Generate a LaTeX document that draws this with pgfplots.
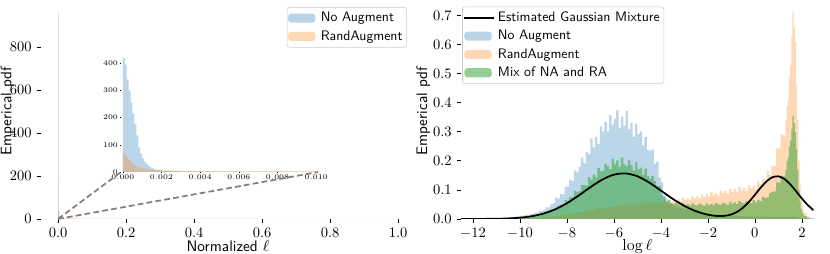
\documentclass[border=0pt]{standalone}
\usepackage{pgfplots}
\pgfplotsset{compat=1.18}
\definecolor{tabblue}{RGB}{31,119,180}
\definecolor{taborange}{RGB}{255,127,14}
\definecolor{tabgreen}{RGB}{44,160,44}
\pgfplotsset{
  patchlegend/.style={legend image code/.code={\fill[##1] (0cm,-0.11cm) rectangle (0.66cm,0.11cm); \path (0cm,0cm) -- (0.72cm,0cm);}},
  linelegend/.style={legend image code/.code={\draw[##1] (0cm,0cm) -- (0.66cm,0cm); \path (0cm,0cm) -- (0.72cm,0cm);}},
  myax/.style={scale only axis, axis lines*=left, axis line style={draw=none},
    tick align=outside, major tick length=3pt, tick style={black, line width=0.5pt},
    ticklabel style={font=\fontsize{10}{12}\selectfont},
    label style={font=\sffamily\fontsize{10.5}{12}\selectfont},
    legend cell align=left,
    legend style={draw=black!20, rounded corners=2pt, fill=white,
      font=\sffamily\fontsize{9.5}{11}\selectfont, inner xsep=0.8pt, inner ysep=1.5pt, row sep=0.5pt},
  },
  bluehist/.style={draw=none, fill=tabblue, fill opacity=0.3, const plot, patchlegend},
  orangehist/.style={draw=none, fill=taborange, fill opacity=0.3, const plot, patchlegend},
  greenhist/.style={draw=none, fill=tabgreen, fill opacity=0.5, const plot, patchlegend},
}
\begin{document}
\begin{tikzpicture}
\useasboundingbox (-28.3pt,-24.1pt) rectangle (544.1pt,151.0pt);
% ---------------- left panel ----------------
\begin{axis}[myax, width=258pt, height=148.3pt,
  xmin=-0.05, xmax=1.05, ymin=0, ymax=1000,
  xtick={0,0.2,0.4,0.6,0.8,1}, ytick={0,200,400,600,800},
  xticklabel style={/pgf/number format/.cd, fixed, fixed zerofill, precision=1},
  xlabel={Normalized $\ell$}, ylabel={Emperical pdf},
  xlabel style={at={(axis description cs:0.5,-0.127)}, anchor=center},
  ylabel style={at={(axis description cs:-0.0895,0.5)}, anchor=center},
  legend style={at={(axis description cs:0.978,0.986)}, anchor=north east},
]
\addplot[bluehist] coordinates {(0,960) (0.002,40) (0.004,6) (0.006,2) (0.01,0.8) (0.02,0.3) (0.05,0)} \closedcycle;
\addlegendentry{No Augment}
\addplot[orangehist] coordinates {(0,175) (0.002,35) (0.004,12) (0.006,7) (0.01,4) (0.02,3) (0.05,2) (0.1,1.5) (0.2,1.2) (0.4,1) (0.6,0.8) (0.8,0.6) (1.0,0)} \closedcycle;
\addlegendentry{RandAugment}
\coordinate (O) at (axis cs:0,0);
\end{axis}
% ---------------- inset ----------------
\begin{axis}[name=inset, at={(55.2pt,32.4pt)}, anchor=south west, scale only axis,
  width=135.9pt, height=86.3pt, xmin=-0.00009, xmax=0.0101, ymin=0, ymax=460,
  axis lines*=left, axis line style={draw=none}, tick align=outside,
  major tick length=1pt, tick style={black, line width=0.3pt},
  xtick={0,0.002,0.004,0.006,0.008,0.010}, ytick={0,100,200,300,400},
  scaled x ticks=false,
  xticklabel style={/pgf/number format/.cd, fixed, fixed zerofill, precision=3},
  ticklabel style={font=\fontsize{3}{3.5}\selectfont, inner sep=1pt},
]
\addplot[bluehist] coordinates {(0,420) (0.0001,395) (0.0002,340) (0.0003,300) (0.0004,255) (0.0005,215) (0.0006,175) (0.0007,135) (0.0008,90) (0.0009,68) (0.001,50) (0.0011,38) (0.0012,29) (0.0013,22) (0.0014,17) (0.0015,13) (0.0016,10) (0.0017,8) (0.0018,6.5) (0.0019,5.5) (0.002,4.5) (0.0022,4) (0.0025,3) (0.003,2) (0.004,1.2) (0.006,0.6) (0.008,0.3) (0.010,0)} \closedcycle;
\addplot[orangehist] coordinates {(0,70) (0.0001,60) (0.0002,50) (0.0003,42) (0.0004,35) (0.0005,29) (0.0006,24) (0.0007,20) (0.0008,17) (0.0009,14.5) (0.001,12.5) (0.0012,10) (0.0014,8.5) (0.0016,7.5) (0.002,6) (0.0025,5) (0.003,4.5) (0.004,4) (0.006,3.5) (0.008,3) (0.010,0)} \closedcycle;
\end{axis}
\draw[gray, line width=1.2pt, dash pattern=on 4pt off 2.2pt] (O) -- (inset.south west);
\draw[gray, line width=1.2pt, dash pattern=on 4pt off 2.2pt] (O) -- (inset.south east);
% ---------------- right panel ----------------
\begin{axis}[myax, at={(289.7pt,0pt)}, anchor=south west, width=243.1pt, height=148.3pt,
  xmin=-12.5, xmax=2.5, ymin=0, ymax=0.74,
  xtick={-12,-10,-8,-6,-4,-2,0,2}, ytick={0,0.1,0.2,0.3,0.4,0.5,0.6,0.7},
  yticklabel style={/pgf/number format/.cd, fixed, fixed zerofill, precision=1},
  xlabel={$\log \ell$}, ylabel={Emperical pdf},
  xlabel style={at={(axis description cs:0.5,-0.127)}, anchor=center},
  ylabel style={at={(axis description cs:-0.1078,0.5)}, anchor=center},
  legend style={at={(axis description cs:0.003,0.988)}, anchor=north west},
]
\addlegendimage{black, line width=1.2pt, linelegend}
\addlegendentry{Estimated Gaussian Mixture}
\addplot[bluehist] coordinates {(-12.5,0) (-12,0.0003) (-11.5,0.0008) (-11,0.0018) (-10.5,0.0050) (-10.4,0.0065) (-10.3,0.0064) (-10.2,0.0083) (-10.1,0.0086) (-10,0.0111) (-9.9,0.0103) (-9.8,0.0134) (-9.7,0.0126) (-9.6,0.0171) (-9.5,0.0175) (-9.4,0.0210) (-9.3,0.0214) (-9.2,0.0281) (-9.1,0.0278) (-9,0.0320) (-8.9,0.0403) (-8.8,0.0396) (-8.7,0.0520) (-8.6,0.0542) (-8.5,0.0722) (-8.4,0.0696) (-8.3,0.0865) (-8.2,0.0846) (-8.1,0.1113) (-8,0.1116) (-7.9,0.1344) (-7.8,0.1311) (-7.7,0.1663) (-7.6,0.1603) (-7.5,0.1800) (-7.4,0.2115) (-7.3,0.1914) (-7.2,0.2309) (-7.1,0.2242) (-7,0.2775) (-6.9,0.2463) (-6.8,0.2822) (-6.7,0.2574) (-6.6,0.3189) (-6.5,0.3007) (-6.4,0.3329) (-6.3,0.3013) (-6.2,0.3575) (-6.1,0.3245) (-6,0.3450) (-5.9,0.3739) (-5.8,0.3137) (-5.7,0.3526) (-5.6,0.3202) (-5.5,0.3719) (-5.4,0.3083) (-5.3,0.3306) (-5.2,0.2826) (-5.1,0.3285) (-5,0.2910) (-4.9,0.3014) (-4.8,0.2548) (-4.7,0.2819) (-4.6,0.2381) (-4.5,0.2350) (-4.4,0.2398) (-4.3,0.1886) (-4.2,0.1976) (-4.1,0.1425) (-4,0.1277) (-3.9,0.0799) (-3.8,0.0700) (-3.7,0.0522) (-3.6,0.0535) (-3.5,0.0437) (-3.4,0.041) (-3.2,0.036) (-3,0.031) (-2.8,0.028) (-2.6,0.024) (-2.4,0.022) (-2.2,0.019) (-2,0.017) (-1.8,0.015) (-1.6,0.014) (-1.4,0.013) (-1.2,0.012) (-1,0.011) (-0.8,0.010) (-0.6,0.010) (-0.4,0.009) (-0.2,0.009) (0,0.008) (0.2,0.008) (0.4,0.007) (0.6,0.007) (0.8,0.006) (1,0.006) (1.2,0.006) (1.4,0.007) (1.6,0.008) (1.8,0.005) (2,0.002) (2.2,0.001) (2.4,0) (2.5,0)} \closedcycle;
\addlegendentry{No Augment}
\addplot[orangehist] coordinates {(-12.5,0) (-12,0.0002) (-11.5,0.0005) (-11,0.001) (-10.5,0.0016) (-10.4,0.0015) (-10.3,0.0020) (-10.2,0.0018) (-10.1,0.0020) (-10,0.0018) (-9.9,0.0026) (-9.8,0.0027) (-9.7,0.0033) (-9.6,0.0033) (-9.5,0.0044) (-9.4,0.0044) (-9.3,0.0055) (-9.2,0.0054) (-9.1,0.0070) (-9,0.0067) (-8.9,0.0080) (-8.8,0.0078) (-8.7,0.0102) (-8.6,0.0099) (-8.5,0.0114) (-8.4,0.0110) (-8.3,0.0142) (-8.2,0.0134) (-8.1,0.0159) (-8,0.0149) (-7.9,0.0189) (-7.8,0.0175) (-7.7,0.0200) (-7.6,0.0189) (-7.5,0.0238) (-7.4,0.0229) (-7.3,0.0262) (-7.2,0.0247) (-7.1,0.0310) (-7,0.0288) (-6.9,0.0333) (-6.8,0.0305) (-6.7,0.0376) (-6.6,0.0338) (-6.5,0.0377) (-6.4,0.0348) (-6.3,0.0426) (-6.2,0.0394) (-6.1,0.0435) (-6,0.0396) (-5.9,0.0480) (-5.8,0.0432) (-5.7,0.0488) (-5.6,0.0437) (-5.5,0.0528) (-5.4,0.0464) (-5.3,0.0506) (-5.2,0.0459) (-5.1,0.0553) (-5,0.0504) (-4.9,0.0547) (-4.8,0.0489) (-4.7,0.0586) (-4.6,0.0522) (-4.5,0.0583) (-4.4,0.0517) (-4.3,0.0618) (-4.2,0.0540) (-4.1,0.0585) (-4,0.0528) (-3.9,0.0635) (-3.8,0.0578) (-3.7,0.0628) (-3.6,0.0563) (-3.5,0.0676) (-3.4,0.0607) (-3.3,0.0683) (-3.2,0.0610) (-3.1,0.0735) (-3,0.0646) (-2.9,0.0708) (-2.8,0.0644) (-2.7,0.0780) (-2.6,0.0714) (-2.5,0.0780) (-2.4,0.0703) (-2.3,0.0848) (-2.2,0.0760) (-2.1,0.0854) (-2,0.0763) (-1.9,0.0920) (-1.8,0.0809) (-1.7,0.0885) (-1.6,0.0804) (-1.5,0.0972) (-1.4,0.0887) (-1.3,0.0965) (-1.2,0.0867) (-1.1,0.1042) (-1,0.0931) (-0.9,0.1043) (-0.8,0.0928) (-0.7,0.1113) (-0.6,0.0975) (-0.5,0.1061) (-0.4,0.0961) (-0.3,0.1158) (-0.2,0.1055) (-0.1,0.1148) (0,0.1030) (0.1,0.1286) (0.2,0.1190) (0.3,0.1378) (0.4,0.1302) (0.5,0.1650) (0.6,0.1520) (0.7,0.1836) (0.8,0.1820) (0.9,0.2430) (1,0.2425) (1.1,0.2912) (1.2,0.2852) (1.3,0.34) (1.35,0.39) (1.4,0.41) (1.45,0.49) (1.5,0.53) (1.55,0.63) (1.6,0.71) (1.65,0.66) (1.7,0.61) (1.75,0.46) (1.8,0.34) (1.85,0.20) (1.9,0.12) (1.95,0.07) (2,0.045) (2.05,0.03) (2.1,0.02) (2.2,0.01) (2.3,0.005) (2.4,0.002) (2.5,0)} \closedcycle;
\addlegendentry{RandAugment}
\addplot[greenhist] coordinates {(-12.5,0) (-12,0.0002) (-11.5,0.0006) (-11,0.0014) (-10.5,0.0031) (-10.4,0.0041) (-10.3,0.0044) (-10.2,0.0046) (-10.1,0.0060) (-10,0.0058) (-9.9,0.0070) (-9.8,0.0073) (-9.7,0.0095) (-9.6,0.0096) (-9.5,0.0105) (-9.4,0.0132) (-9.3,0.0141) (-9.2,0.0146) (-9.1,0.0193) (-9,0.0189) (-8.9,0.0233) (-8.8,0.0240) (-8.7,0.0327) (-8.6,0.0329) (-8.5,0.0361) (-8.4,0.0460) (-8.3,0.0485) (-8.2,0.0497) (-8.1,0.0649) (-8,0.0635) (-7.9,0.0755) (-7.8,0.0741) (-7.7,0.0955) (-7.6,0.0920) (-7.5,0.0960) (-7.4,0.1164) (-7.3,0.1166) (-7.2,0.1144) (-7.1,0.1441) (-7,0.1358) (-6.9,0.1526) (-6.8,0.1427) (-6.7,0.1761) (-6.6,0.1635) (-6.5,0.1648) (-6.4,0.1900) (-6.3,0.1817) (-6.2,0.1709) (-6.1,0.2070) (-6,0.1882) (-5.9,0.2012) (-5.8,0.1795) (-5.7,0.2118) (-5.6,0.1882) (-5.5,0.1819) (-5.4,0.2016) (-5.3,0.1853) (-5.2,0.1676) (-5.1,0.1952) (-5,0.1707) (-4.9,0.1766) (-4.8,0.1521) (-4.7,0.1731) (-4.6,0.1482) (-4.5,0.1378) (-4.4,0.1474) (-4.3,0.1306) (-4.2,0.1135) (-4.1,0.1130) (-4,0.0839) (-3.9,0.0748) (-3.8,0.0593) (-3.7,0.0651) (-3.6,0.0545) (-3.5,0.0508) (-3.4,0.0557) (-3.3,0.0515) (-3.2,0.0467) (-3.1,0.0547) (-3,0.0480) (-2.9,0.0514) (-2.8,0.0459) (-2.7,0.0540) (-2.6,0.0478) (-2.5,0.0466) (-2.4,0.0526) (-2.3,0.0492) (-2.2,0.0452) (-2.1,0.0537) (-2,0.0480) (-1.9,0.0518) (-1.8,0.0466) (-1.7,0.0557) (-1.6,0.0502) (-1.5,0.0492) (-1.4,0.0558) (-1.3,0.0527) (-1.2,0.0489) (-1.1,0.0584) (-1,0.0524) (-0.9,0.0567) (-0.8,0.0511) (-0.7,0.0612) (-0.6,0.0552) (-0.5,0.0539) (-0.4,0.0613) (-0.3,0.0581) (-0.2,0.0542) (-0.1,0.0648) (0,0.0582) (0.1,0.0655) (0.2,0.0614) (0.3,0.0756) (0.4,0.0720) (0.5,0.0746) (0.6,0.0893) (0.7,0.0933) (0.8,0.0948) (0.9,0.1259) (1,0.1242) (1.1,0.1487) (1.2,0.1469) (1.3,0.17) (1.35,0.20) (1.4,0.21) (1.45,0.25) (1.5,0.27) (1.55,0.31) (1.6,0.355) (1.65,0.33) (1.7,0.30) (1.75,0.24) (1.8,0.17) (1.85,0.10) (1.9,0.06) (1.95,0.035) (2,0.022) (2.05,0.015) (2.1,0.01) (2.2,0.005) (2.3,0.002) (2.4,0.001) (2.5,0)} \closedcycle;
\addlegendentry{Mix of NA and RA}
\addplot[black, line width=1.2pt, smooth, forget plot] coordinates {(-12.5,0.0000) (-12,0.0001) (-11.5,0.0003) (-11,0.0007) (-10.5,0.0018) (-10,0.0044) (-9.5,0.0094) (-9,0.0185) (-8.5,0.0331) (-8,0.0540) (-7.5,0.0805) (-7,0.1092) (-6.5,0.1351) (-6,0.1524) (-5.5,0.1567) (-5,0.1469) (-4.5,0.1255) (-4,0.0977) (-3.5,0.0694) (-3,0.0449) (-2.75,0.0349) (-2.5,0.0266) (-2.25,0.0199) (-2,0.0148) (-1.75,0.0114) (-1.5,0.0100) (-1.25,0.0111) (-1,0.0157) (-0.75,0.0247) (-0.5,0.0392) (-0.25,0.0591) (0,0.0830) (0.25,0.1080) (0.5,0.1297) (0.75,0.1437) (1,0.1467) (1.25,0.1380) (1.5,0.1197) (1.75,0.0957) (2,0.0706) (2.25,0.0479) (2.5,0.0300)};
\end{axis}
\end{tikzpicture}
\end{document}
